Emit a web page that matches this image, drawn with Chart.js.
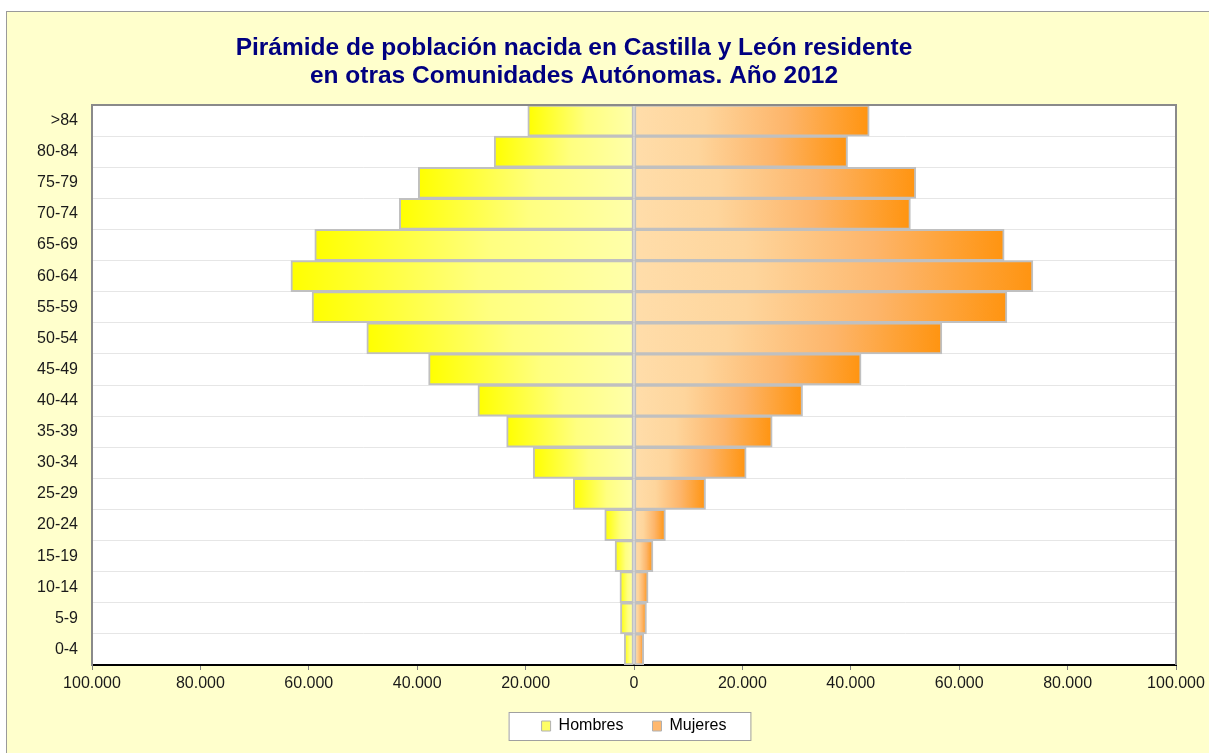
<!DOCTYPE html>
<html>
<head>
<meta charset="utf-8">
<script src="https://cdn.jsdelivr.net/npm/chart.js@4/dist/chart.umd.min.js"></script>
<style>
    body { margin: 0; background: #ffffff; }
    #frame { position: absolute; left: 6px; top: 11px; width: 1203px; height: 742px; background: #FFFFCC; border-left: 1px solid #9a9a9a; border-top: 1px solid #9a9a9a; }
    #chart { display: block; }
</style>
</head>
<body>
<div id="frame"><canvas id="chart" width="1202" height="741"></canvas></div>
<script>
var titleLines = ['Pirámide de población nacida en Castilla y León residente', 'en otras Comunidades Autónomas. Año 2012'];

var ageGroups = ['>84', '80-84', '75-79', '70-74', '65-69', '60-64', '55-59', '50-54', '45-49',
                 '40-44', '35-39', '30-34', '25-29', '20-24', '15-19', '10-14', '5-9', '0-4'];

var hombres = [19600, 25800, 39800, 43300, 58900, 63300, 59400, 49300, 37900,
               28800, 23500, 18600, 11200, 5400, 3500, 2600, 2500, 1800];

var mujeres = [43400, 39400, 52000, 51000, 68300, 73600, 68800, 56800, 41900,
               31100, 25500, 20700, 13200, 5800, 3500, 2600, 2300, 1800];

var seriesNames = ['Hombres', 'Mujeres'];

var font = "'Liberation Sans', Arial, sans-serif";

function thousands(v)
{
    return String(Math.abs(v)).replace(/\B(?=(\d{3})+(?!\d))/g, '.');
}

// gradient runs along each bar, from the zero line out to its end
function fill(stops, solid)
{
    return function (ctx)
    {
        if (ctx.type != 'data') return solid;

        var chart = ctx.chart, x = chart.scales.x;
        if (!x) return solid;

        var p0 = x.getPixelForValue(0);
        var p1 = x.getPixelForValue(ctx.raw);
        if (!isFinite(p0) || !isFinite(p1) || p0 == p1) return solid;

        var g = chart.ctx.createLinearGradient(p0, 0, p1, 0);

        stops.forEach(function (s) { g.addColorStop(s[0], s[1]); });

        return g;
    };
}

var legendFill = ['#FFFF66', '#FFB86E'];

var framePlugin = {
    id: 'frame',
    beforeDraw: function (chart)
    {
        var c = chart.ctx, a = chart.chartArea;
        c.save();
        c.fillStyle = '#ffffff';
        c.fillRect(a.left, a.top, a.right - a.left, a.bottom - a.top);

        // legend box
        var boxes = chart.legend.legendHitBoxes;
        if (boxes && boxes.length)
        {
            var first = boxes[0], last = boxes[boxes.length - 1];
            var cy = first.top + first.height / 2;
            var l = first.left - 33, r = last.left + last.width + 24;
            c.fillStyle = '#ffffff';
            c.fillRect(l, cy - 14, r - l, 28);
            c.strokeStyle = '#a0a0a0';
            c.lineWidth = 1;
            c.strokeRect(l + 0.5, cy - 13.5, r - l, 28);
        }
        c.restore();
    },
    afterDraw: function (chart)
    {
        var c = chart.ctx, a = chart.chartArea;
        c.save();
        c.strokeStyle = '#8a8a8a';
        c.lineWidth = 2;
        c.beginPath();
        c.moveTo(a.left, a.top);
        c.lineTo(a.right, a.top);
        c.lineTo(a.right, a.bottom);
        c.stroke();

        c.fillStyle = '#000080';
        c.font = 'bold 24.5px ' + font;
        c.textAlign = 'center';
        c.textBaseline = 'alphabetic';
        c.fillText(titleLines[0], 567, 42.5);
        c.fillText(titleLines[1], 567, 71);
        c.restore();
    }
};

var config = {
    type: 'bar',
    data: {
        labels: ageGroups,
        datasets: [
            {
                label: seriesNames[0],
                data: hombres.map(function (v) { return -v; }),
                backgroundColor: fill([[0, '#FFFFAA'], [0.45, '#FFFF80'], [1, '#FFFF00']], legendFill[0]),
                borderColor: '#C0C0C0',
                borderWidth: 2,
                borderSkipped: false
            },
            {
                label: seriesNames[1],
                data: mujeres,
                backgroundColor: fill([[0, '#FFDDAA'], [0.3, '#FED59C'], [0.65, '#FDB56A'], [1, '#FF9410']], legendFill[1]),
                borderColor: '#C0C0C0',
                borderWidth: 2,
                borderSkipped: false
            }
        ]
    },
    options: {
        responsive: false,
        animation: false,
        indexAxis: 'y',
        layout: { padding: { top: 93, left: 29, right: 33, bottom: 9 } },
        datasets: { bar: { barPercentage: 1, categoryPercentage: 1 } },
        scales: {
            x: {
                stacked: true,
                min: -100000,
                max: 100000,
                ticks: {
                    stepSize: 20000,
                    color: '#1a1a1a',
                    font: { family: font, size: 16 },
                    padding: 4,
                    maxRotation: 0,
                    callback: function (v) { return thousands(v); }
                },
                grid: { drawOnChartArea: false, color: '#808080', tickLength: 5 },
                border: { color: '#000000', width: 2 },
                afterFit: function (s) { s.height = 24; s.paddingLeft = 0; s.paddingRight = 0; }
            },
            y: {
                stacked: true,
                ticks: {
                    color: '#1a1a1a',
                    font: { family: font, size: 16 },
                    padding: 14,
                    autoSkip: false
                },
                grid: { color: '#E6E6E6', drawTicks: false },
                border: { color: '#8a8a8a', width: 2 },
                afterFit: function (s) { s.width = 56; }
            }
        },
        plugins: {
            title: { display: false },
            tooltip: { enabled: false },
            legend: {
                position: 'bottom',
                fullSize: false,
                labels: {
                    color: '#000000',
                    font: { family: font, size: 16 },
                    boxWidth: 9,
                    boxHeight: 10,
                    padding: 29,
                    generateLabels: function (chart)
                    {
                        var items = Chart.defaults.plugins.legend.labels.generateLabels(chart);
                        items.forEach(function (it, i)
                        {
                            it.fillStyle = legendFill[i];
                            it.lineWidth = 1;
                            it.strokeStyle = '#b0b0b0';
                        });
                        return items;
                    }
                }
            }
        }
    },
    plugins: [framePlugin]
};

new Chart(document.getElementById('chart'), config);
</script>
</body>
</html>
